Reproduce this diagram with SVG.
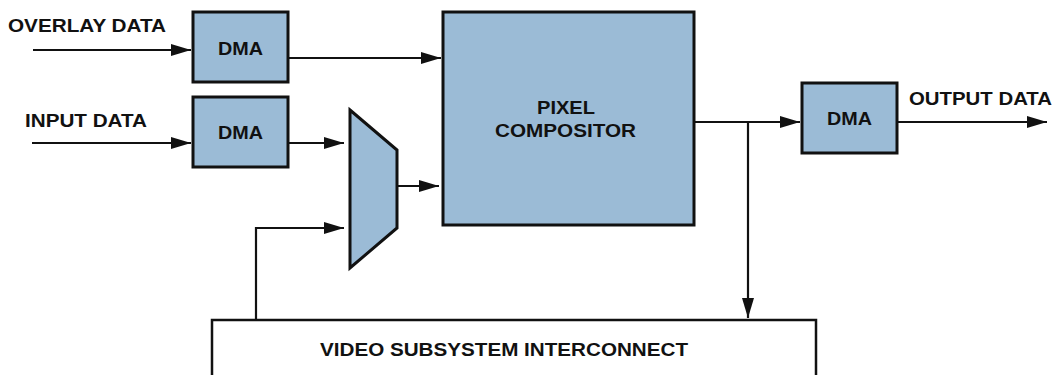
<svg xmlns="http://www.w3.org/2000/svg" width="1055" height="375" viewBox="0 0 1055 375">
<style>
.box{fill:#9bbbd6;stroke:#111;stroke-width:3}
.wbox{fill:#fff;stroke:#111;stroke-width:2.5}
.lbl{font-family:"Liberation Sans",Arial,sans-serif;font-weight:bold;font-size:18px;fill:#111}
.c{text-anchor:middle}
.ln{fill:none;stroke:#111;stroke-width:2.2}
</style>
<defs>
<marker id="ah" markerUnits="userSpaceOnUse" markerWidth="22" markerHeight="14" refX="20" refY="6" orient="auto">
<path d="M0,0 L20,6 L0,12 z" fill="#111"/>
</marker>
</defs>
<rect width="1055" height="375" fill="#fff"/>
<g id="connectors">
<path class="ln" d="M33,50 H191" marker-end="url(#ah)"/>
<path class="ln" d="M32,143 H191" marker-end="url(#ah)"/>
<path class="ln" d="M288,58 H441" marker-end="url(#ah)"/>
<path class="ln" d="M288,143 H344" marker-end="url(#ah)"/>
<path class="ln" d="M397,186 H439" marker-end="url(#ah)"/>
<path class="ln" d="M256,320 V228 H344" marker-end="url(#ah)"/>
<path class="ln" d="M694,122 H800" marker-end="url(#ah)"/>
<path class="ln" d="M748,122 V318" marker-end="url(#ah)"/>
<path class="ln" d="M897,122 H1047" marker-end="url(#ah)"/>
</g>
<g id="labels">
<text class="lbl" x="8" y="32" textLength="158" lengthAdjust="spacingAndGlyphs">OVERLAY DATA</text>
<text class="lbl" x="25" y="127" textLength="122" lengthAdjust="spacingAndGlyphs">INPUT DATA</text>
<text class="lbl" x="909" y="105" textLength="143" lengthAdjust="spacingAndGlyphs">OUTPUT DATA</text>
</g>
<g id="dma-overlay">
<rect class="box" x="193" y="12" width="95" height="70"/>
<text class="lbl" x="218" y="55" textLength="45" lengthAdjust="spacingAndGlyphs">DMA</text>
</g>
<g id="dma-input">
<rect class="box" x="193" y="97" width="95" height="70"/>
<text class="lbl" x="218" y="139" textLength="45" lengthAdjust="spacingAndGlyphs">DMA</text>
</g>
<g id="mux">
<polygon class="box" points="350,110 397,150 397,228 350,268"/>
</g>
<g id="pixel-compositor">
<rect class="box" x="443" y="12" width="251" height="213"/>
<text class="lbl" x="537" y="114" textLength="58" lengthAdjust="spacingAndGlyphs">PIXEL</text>
<text class="lbl" x="495" y="137" textLength="141" lengthAdjust="spacingAndGlyphs">COMPOSITOR</text>
</g>
<g id="dma-output">
<rect class="box" x="802" y="83" width="95" height="70"/>
<text class="lbl" x="827" y="125" textLength="45" lengthAdjust="spacingAndGlyphs">DMA</text>
</g>
<g id="interconnect">
<rect class="wbox" x="212" y="320" width="604" height="70"/>
<text class="lbl" x="320" y="356" textLength="368" lengthAdjust="spacingAndGlyphs">VIDEO SUBSYSTEM INTERCONNECT</text>
</g>
</svg>
